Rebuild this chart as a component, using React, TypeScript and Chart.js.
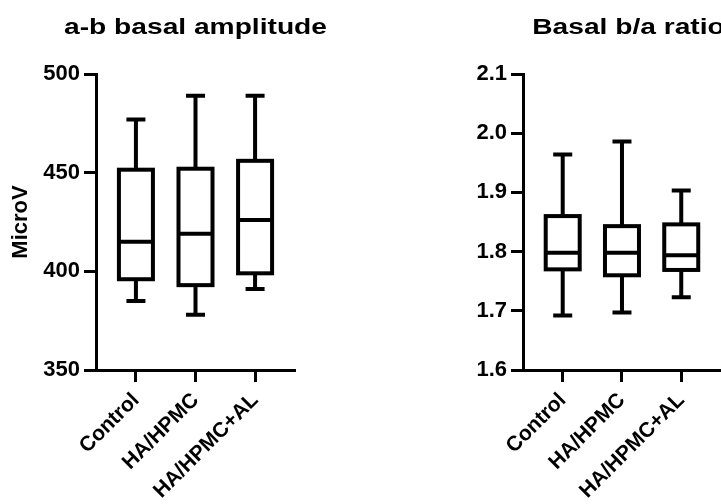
import React, { useEffect, useRef } from "react";
import { Chart, registerables } from "chart.js";

Chart.register(...registerables);

const CATEGORIES = ["Control", "HA/HPMC", "HA/HPMC+AL"];

// a-b basal amplitude (MicroV)
const AMP_MIN = [385, 378, 391];
const AMP_Q1 = [396, 393, 399];
const AMP_MEDIAN = [415, 419, 426];
const AMP_Q3 = [451.5, 452, 456];
const AMP_MAX = [477, 489, 489];
const AMP_TICKS = [350, 400, 450, 500];

// Basal b/a ratio
const RATIO_MIN = [1.692, 1.697, 1.723];
const RATIO_Q1 = [1.770, 1.760, 1.769];
const RATIO_MEDIAN = [1.798, 1.798, 1.794];
const RATIO_Q3 = [1.860, 1.843, 1.846];
const RATIO_MAX = [1.964, 1.986, 1.903];
const RATIO_TICKS = [1.6, 1.7, 1.8, 1.9, 2.0, 2.1];

const TITLE_AMP = "a-b basal amplitude";
const TITLE_RATIO = "Basal b/a ratio";
const Y_TITLE_AMP = "MicroV";

const FONT = '"Liberation Sans", Arial, Helvetica, sans-serif';

type BoxData = { min: number[]; q1: number[]; med: number[]; q3: number[]; max: number[] };

const boxPlugin = {
  id: "boxWhisker",
  afterDatasetsDraw(chart: any, _args: any, opts: any) {
    const d: BoxData = opts.data;
    if (!d) return;
    const meta = chart.getDatasetMeta(0);
    const y = chart.scales.y;
    const ctx = chart.ctx;
    ctx.save();
    ctx.strokeStyle = "#000";
    ctx.lineWidth = 4;
    ctx.lineCap = "butt";
    ctx.lineJoin = "miter";
    meta.data.forEach((bar: any, i: number) => {
      const x = bar.x;
      const w = opts.boxWidth;
      const cap = opts.capWidth / 2;
      const yMin = y.getPixelForValue(d.min[i]);
      const yQ1 = y.getPixelForValue(d.q1[i]);
      const yMed = y.getPixelForValue(d.med[i]);
      const yQ3 = y.getPixelForValue(d.q3[i]);
      const yMax = y.getPixelForValue(d.max[i]);
      ctx.beginPath();
      // upper whisker
      ctx.moveTo(x, yQ3);
      ctx.lineTo(x, yMax);
      ctx.moveTo(x - cap, yMax);
      ctx.lineTo(x + cap, yMax);
      // lower whisker
      ctx.moveTo(x, yQ1);
      ctx.lineTo(x, yMin);
      ctx.moveTo(x - cap, yMin);
      ctx.lineTo(x + cap, yMin);
      // median
      ctx.moveTo(x - w / 2, yMed);
      ctx.lineTo(x + w / 2, yMed);
      ctx.stroke();
      ctx.strokeRect(x - w / 2, yQ3, w, yQ1 - yQ3);
    });
    ctx.restore();
  },
};

const stretchedTitlePlugin = {
  id: "stretchedTitle",
  afterDraw(chart: any, _args: any, opts: any) {
    if (!opts.text) return;
    const ctx = chart.ctx;
    const area = chart.chartArea;
    ctx.save();
    ctx.font = `bold ${opts.size}px ${FONT}`;
    ctx.fillStyle = "#000";
    ctx.textAlign = "center";
    ctx.textBaseline = "alphabetic";
    ctx.translate((area.left + area.right) / 2, opts.baseline);
    ctx.scale(opts.stretch, 1);
    ctx.fillText(opts.text, 0, 0);
    ctx.restore();
  },
};

function makeConfig(
  data: BoxData,
  ticks: number[],
  title: string,
  yTitle: string | null,
  yAxisWidth: number,
  xMax: number,
  rightPad: number,
  decimals: number
): any {
  return {
    type: "bar",
    data: {
      datasets: [
        {
          data: CATEGORIES.map((_, i) => ({ x: i, y: [data.q1[i], data.q3[i]] })),
          backgroundColor: "#ffffff",
          borderWidth: 0,
          barThickness: 34,
        },
      ],
    },
    plugins: [boxPlugin, stretchedTitlePlugin],
    options: {
      animation: false,
      responsive: false,
      maintainAspectRatio: false,
      layout: { padding: { top: 74, left: 0, right: rightPad, bottom: 0 } },
      plugins: {
        legend: { display: false },
        tooltip: { enabled: false },
        title: { display: false },
        boxWhisker: { data, boxWidth: 34, capWidth: 19 },
        stretchedTitle: { text: title, size: 22, stretch: 1.28, baseline: 34 },
      },
      scales: {
        x: {
          type: "linear",
          offset: false,
          min: -0.67,
          max: xMax,
          afterBuildTicks: (scale: any) => {
            scale.ticks = CATEGORIES.map((_, i) => ({ value: i }));
          },
          afterFit: (scale: any) => {
            scale.height = 134;
          },
          grid: {
            display: true,
            offset: false,
            drawOnChartArea: false,
            drawTicks: true,
            tickLength: 12,
            tickWidth: 3,
            tickColor: "#000",
            color: "#000",
          },
          border: { display: true, color: "#000", width: 3 },
          ticks: {
            autoSkip: false,
            maxRotation: 45,
            minRotation: 45,
            padding: 6,
            color: "#000",
            font: { family: FONT, size: 21, weight: "bold" },
            callback: (v: number) => CATEGORIES[Math.round(v)] ?? "",
          },
        },
        y: {
          type: "linear",
          min: ticks[0],
          max: ticks[ticks.length - 1],
          afterBuildTicks: (scale: any) => {
            scale.ticks = ticks.map((v) => ({ value: v }));
          },
          afterFit: (scale: any) => {
            scale.width = yAxisWidth;
          },
          grid: {
            display: true,
            drawOnChartArea: false,
            drawTicks: true,
            tickLength: 12,
            tickWidth: 3,
            tickColor: "#000",
            color: "#000",
          },
          border: { display: true, color: "#000", width: 3 },
          ticks: {
            padding: 4,
            color: "#000",
            font: { family: FONT, size: 22, weight: "bold" },
            callback: (v: number) => v.toFixed(decimals),
          },
          title: yTitle
            ? {
                display: true,
                text: yTitle,
                color: "#000",
                padding: { top: 8, bottom: 0 },
                font: { family: FONT, size: 22, weight: "bold" },
              }
            : { display: false },
        },
      },
    },
  };
}

export default function App() {
  const leftRef = useRef<HTMLCanvasElement>(null);
  const rightRef = useRef<HTMLCanvasElement>(null);

  useEffect(() => {
    const ampData: BoxData = { min: AMP_MIN, q1: AMP_Q1, med: AMP_MEDIAN, q3: AMP_Q3, max: AMP_MAX };
    const ratioData: BoxData = { min: RATIO_MIN, q1: RATIO_Q1, med: RATIO_MEDIAN, q3: RATIO_Q3, max: RATIO_MAX };
    const left = new Chart(
      leftRef.current as HTMLCanvasElement,
      makeConfig(ampData, AMP_TICKS, TITLE_AMP, Y_TITLE_AMP, 96, 2.67, 65, 0)
    );
    const right = new Chart(
      rightRef.current as HTMLCanvasElement,
      makeConfig(ratioData, RATIO_TICKS, TITLE_RATIO, null, 163, 2.89, 0, 1)
    );
    return () => {
      left.destroy();
      right.destroy();
    };
  }, []);

  return (
    <div
      style={{
        position: "fixed",
        left: 0,
        top: 0,
        width: 721,
        height: 504,
        overflow: "hidden",
        background: "#ffffff",
      }}
    >
      <canvas
        ref={leftRef}
        width={360}
        height={504}
        style={{ position: "absolute", left: 0, top: 0, width: 360, height: 504 }}
      />
      <canvas
        ref={rightRef}
        width={374}
        height={504}
        style={{ position: "absolute", left: 360, top: 0, width: 374, height: 504 }}
      />
    </div>
  );
}
